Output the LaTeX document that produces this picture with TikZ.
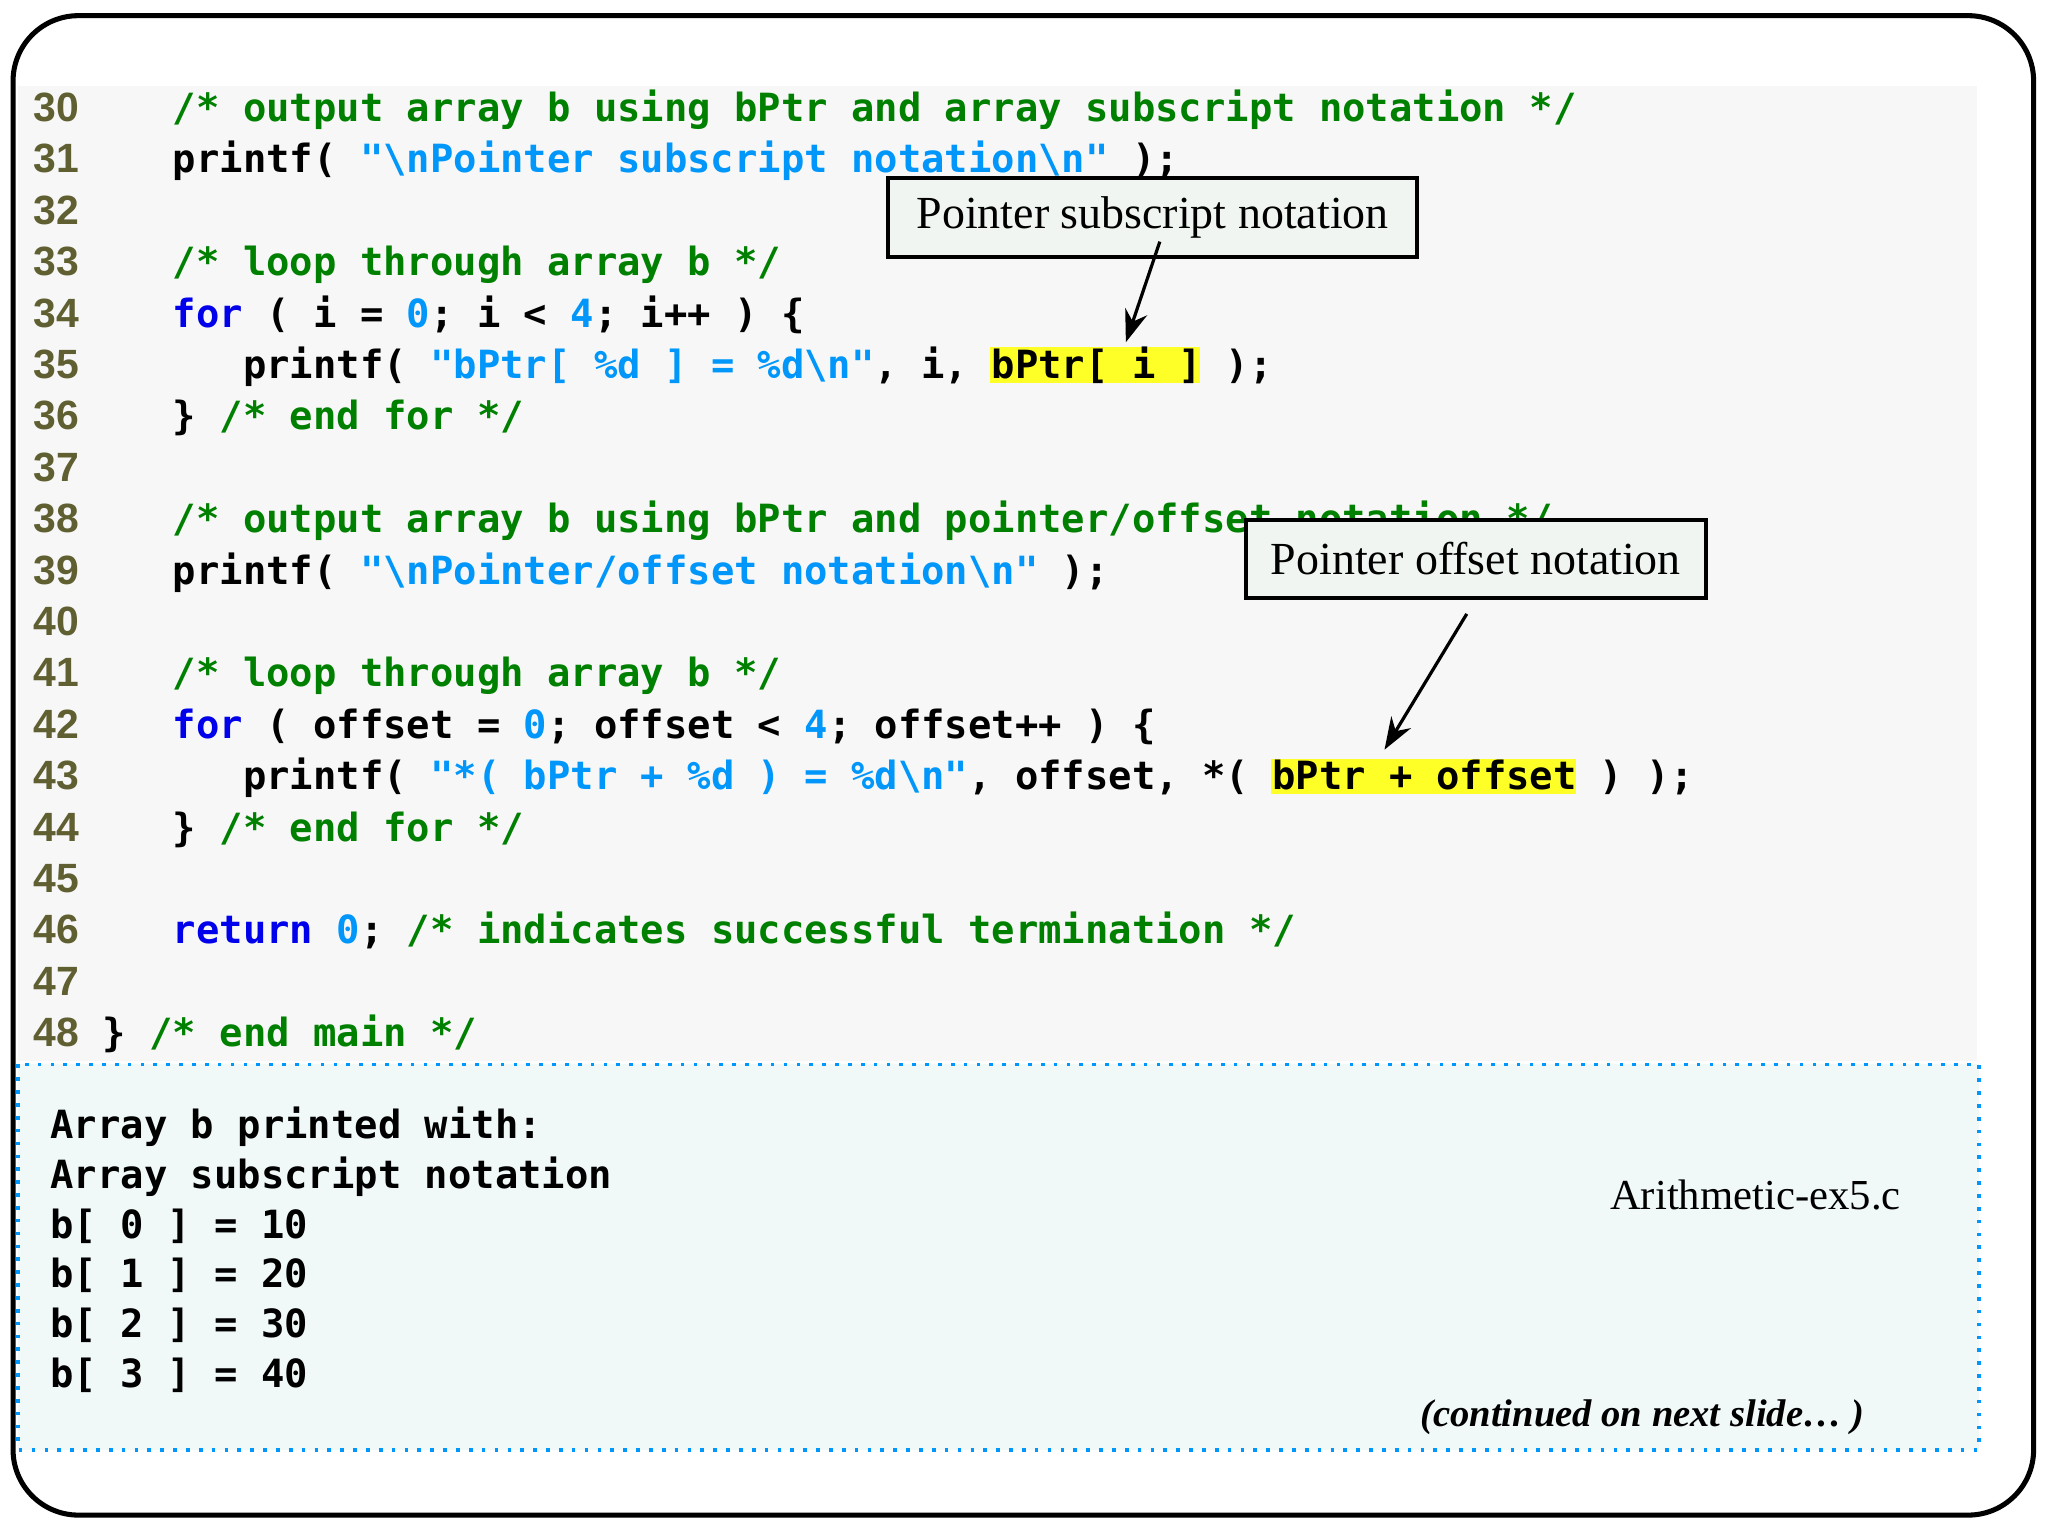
\documentclass[tikz,border=0pt]{standalone}
\usepackage{fontspec}
\setmainfont{Liberation Serif}
\setmonofont{DejaVu Sans Mono}
\newfontfamily\lnfont{Liberation Sans}
\usetikzlibrary{arrows.meta}
\definecolor{cmc}{RGB}{0,128,0}
\definecolor{kwc}{RGB}{0,0,235}
\definecolor{stc}{RGB}{0,150,250}
\definecolor{lnc}{RGB}{95,95,50}
\definecolor{codebg}{RGB}{247,247,247}
\definecolor{outbg}{RGB}{240,248,248}
\definecolor{callbg}{RGB}{240,245,242}
\definecolor{hl}{RGB}{255,255,40}
\newcommand{\cm}[1]{\textcolor{cmc}{#1}}
\newcommand{\kw}[1]{\textcolor{kwc}{#1}}
\newcommand{\st}[1]{\textcolor{stc}{#1}}
\newcommand{\bs}{\textbackslash}
\tikzset{
 code/.style={anchor=base west,inner sep=0pt,font=\ttfamily\bfseries\fontsize{8.46}{10}\selectfont},
 lnum/.style={anchor=base west,inner sep=0pt,font=\lnfont\bfseries\fontsize{8.9}{10}\selectfont,text=lnc},
 callout/.style={draw,fill=callbg,line width=0.8pt,minimum height=0.6cm,inner xsep=4pt,font=\fontsize{10}{12}\selectfont},
 arr/.style={-{Stealth[length=7pt,width=5pt]},line width=0.7pt}
}
\begin{document}
\begin{tikzpicture}[x=0.01cm,y=-0.01cm]
\useasboundingbox (0,0) rectangle (1568,1176);
\draw[line width=1.1pt,rounded corners=0.5cm] (10,12) rectangle (1557,1160);
\fill[codebg] (14,66) rectangle (1514,812);
\draw[stc,dotted,fill=outbg,line width=0.8pt] (14,815) rectangle (1515,1110);
% highlights
\fill[hl] (758,266) rectangle (919,293);
\fill[hl] (973,581) rectangle (1207,608);
% line numbers
\foreach \n [count=\i from 0] in {30,...,48}
  \node[lnum] (n\n) at (25,{93+\i*39.35}) {\n};
\node[code] (c30) at (78,93) {~~~\cm{/* output array b using bPtr and array subscript notation */}};
\node[code] (c31) at (78,132.35) {~~~printf( \st{"\bs nPointer subscript notation\bs n"} );};
\node[code] (c33) at (78,211.05) {~~~\cm{/* loop through array b */}};
\node[code] (c34) at (78,250.4) {~~~\kw{for} ( i = \st{0}; i < \st{4}; i++ ) \{};
\node[code] (c35) at (78,289.75) {~~~~~~printf( \st{"bPtr[ \%d ] = \%d\bs n"}, i, bPtr[ i ] );};
\node[code] (c36) at (78,329.1) {~~~\} \cm{/* end for */}};
\node[code] (c38) at (78,407.8) {~~~\cm{/* output array b using bPtr and pointer/offset notation */}};
\node[code] (c39) at (78,447.15) {~~~printf( \st{"\bs nPointer/offset notation\bs n"} );};
\node[code] (c41) at (78,525.85) {~~~\cm{/* loop through array b */}};
\node[code] (c42) at (78,565.2) {~~~\kw{for} ( offset = \st{0}; offset < \st{4}; offset++ ) \{};
\node[code] (c43) at (78,604.55) {~~~~~~printf( \st{"*( bPtr + \%d ) = \%d\bs n"}, offset, *( bPtr + offset ) );};
\node[code] (c44) at (78,643.9) {~~~\} \cm{/* end for */}};
\node[code] (c46) at (78,722.6) {~~~\kw{return} \st{0}; \cm{/* indicates successful termination */}};
\node[code] (c48) at (78,801.3) {\} \cm{/* end main */}};
% callouts
\node[callout,minimum width=4.05cm] (p1) at (882.5,166.5) {Pointer subscript notation};
\node[callout,minimum width=3.52cm] (p2) at (1130,428) {Pointer offset notation};
\coordinate (t1) at (862,262);
\coordinate (t2) at (1060,574);
\draw[arr] (888,185) -- (t1);
\draw[arr] (1123,470) -- (t2);
% output
\node[code] (o1) at (38,872) {Array b printed with:};
\node[code] (o2) at (38,910) {Array subscript notation};
\node[code] (o3) at (38,948) {b[ 0 ] = 10};
\node[code] (o4) at (38,986) {b[ 1 ] = 20};
\node[code] (o5) at (38,1024) {b[ 2 ] = 30};
\node[code] (o6) at (38,1062) {b[ 3 ] = 40};
\node[anchor=base west,inner sep=0pt,font=\fontsize{9.3}{11}\selectfont] (fn) at (1232,926) {Arithmetic-ex5.c};
\node[anchor=base east,inner sep=0pt,font=\bfseries\itshape\fontsize{8.4}{10}\selectfont] (cont) at (1428,1092) {(continued on next slide\dots\ )};
\end{tikzpicture}
\end{document}
